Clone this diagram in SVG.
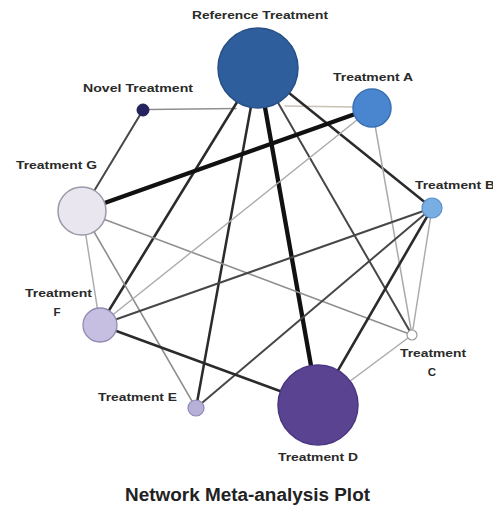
<svg xmlns="http://www.w3.org/2000/svg" width="493" height="508" viewBox="0 0 493 508">
<style>
.lbl{font-family:"Liberation Sans",Arial,sans-serif;font-weight:bold;font-size:11.5px;fill:#2a2a2a;}
.title{font-family:"Liberation Sans",Arial,sans-serif;font-weight:bold;font-size:18px;fill:#222;}
.e{fill:none;stroke-linecap:round;}
.thin{stroke:#8f8f8f;stroke-width:1.5;}
.light{stroke:#ababab;stroke-width:1.5;}
.dark{stroke:#2b2b2b;stroke-width:2.5;}
.mid{stroke:#474747;stroke-width:2;}
.thick{stroke:#111;stroke-width:4.3;}
</style>
<rect width="493" height="508" fill="#fff"/>
<g id="connectors">
<line class="e thin" x1="149" y1="109.5" x2="236" y2="108.5"/>
<line class="e" stroke="#c9c0b6" stroke-width="1.6" x1="285" y1="106" x2="354" y2="107"/>
<line class="e dark" x1="258" y1="68" x2="432" y2="208"/>
<line class="e mid" x1="258" y1="68" x2="412" y2="335"/>
<line class="e thick" stroke-width="4.8" x1="258" y1="68" x2="318" y2="405"/>
<line class="e dark" x1="258" y1="68" x2="196" y2="408"/>
<line class="e dark" stroke-width="3" x1="258" y1="68" x2="100" y2="325"/>
<line class="e mid" stroke="#333" x1="143" y1="110" x2="82" y2="211"/>
<line class="e thick" x1="82" y1="211" x2="372" y2="108"/>
<line class="e thin" x1="82" y1="211" x2="412" y2="335"/>
<line class="e thin" x1="82" y1="211" x2="196" y2="408"/>
<line class="e light" stroke="#999" x1="82" y1="211" x2="100" y2="325"/>
<line class="e light" stroke="#a3a3a3" x1="372" y1="108" x2="100" y2="325"/>
<line class="e light" x1="372" y1="108" x2="412" y2="335"/>
<line class="e mid" stroke="#555" stroke-width="1.8" x1="432" y1="208" x2="100" y2="325"/>
<line class="e mid" x1="432" y1="208" x2="196" y2="408"/>
<line class="e dark" x1="432" y1="208" x2="318" y2="405"/>
<line class="e light" x1="432" y1="208" x2="412" y2="335"/>
<line class="e dark" x1="100" y1="325" x2="318" y2="405"/>
<line class="e light" x1="318" y1="405" x2="412" y2="335"/>
</g>
<g id="node-ref">
<circle cx="258" cy="68" r="40" fill="#2f5e9d" stroke="#264f86" stroke-width="1.5"/>
<text class="lbl" x="260" y="19" text-anchor="middle" textLength="136" lengthAdjust="spacingAndGlyphs">Reference Treatment</text>
</g>
<g id="node-novel">
<circle cx="143" cy="110" r="6" fill="#25235f" stroke="#1b1a4a" stroke-width="1"/>
<text class="lbl" x="138" y="92" text-anchor="middle" textLength="110" lengthAdjust="spacingAndGlyphs">Novel Treatment</text>
</g>
<g id="node-a">
<circle cx="372" cy="108" r="19" fill="#4a86cf" stroke="#3b70b2" stroke-width="1.5"/>
<text class="lbl" x="373" y="81" text-anchor="middle" textLength="80" lengthAdjust="spacingAndGlyphs">Treatment A</text>
</g>
<g id="node-b">
<circle cx="432" cy="208" r="10" fill="#79aee2" stroke="#5a8fc8" stroke-width="1.2"/>
<text class="lbl" x="415" y="189" textLength="80" lengthAdjust="spacingAndGlyphs">Treatment B</text>
</g>
<g id="node-c">
<circle cx="412" cy="335" r="5" fill="#fff" stroke="#999" stroke-width="1.2"/>
<text class="lbl" x="433" y="357" text-anchor="middle" textLength="66" lengthAdjust="spacingAndGlyphs">Treatment</text>
<text class="lbl" x="432" y="376" text-anchor="middle">C</text>
</g>
<g id="node-d">
<circle cx="318" cy="405" r="40" fill="#5a4492" stroke="#4a3680" stroke-width="1.5"/>
<text class="lbl" x="318" y="461" text-anchor="middle" textLength="80" lengthAdjust="spacingAndGlyphs">Treatment D</text>
</g>
<g id="node-e">
<circle cx="196" cy="408" r="8" fill="#b7b1d8" stroke="#8e88b6" stroke-width="1.2"/>
<text class="lbl" x="137.5" y="401" text-anchor="middle" textLength="79" lengthAdjust="spacingAndGlyphs">Treatment E</text>
</g>
<g id="node-f">
<circle cx="100" cy="325" r="17" fill="#c6bfe1" stroke="#918bb3" stroke-width="1.3"/>
<text class="lbl" x="58.5" y="297" text-anchor="middle" textLength="67" lengthAdjust="spacingAndGlyphs">Treatment</text>
<text class="lbl" x="57" y="316" text-anchor="middle">F</text>
</g>
<g id="node-g">
<circle cx="82" cy="211" r="24" fill="#e9e6ef" stroke="#9c99a8" stroke-width="1.5"/>
<text class="lbl" x="56.5" y="169" text-anchor="middle" textLength="81" lengthAdjust="spacingAndGlyphs">Treatment G</text>
</g>
<text class="title" x="247.5" y="501" text-anchor="middle" textLength="245" lengthAdjust="spacingAndGlyphs">Network Meta-analysis Plot</text>
</svg>
